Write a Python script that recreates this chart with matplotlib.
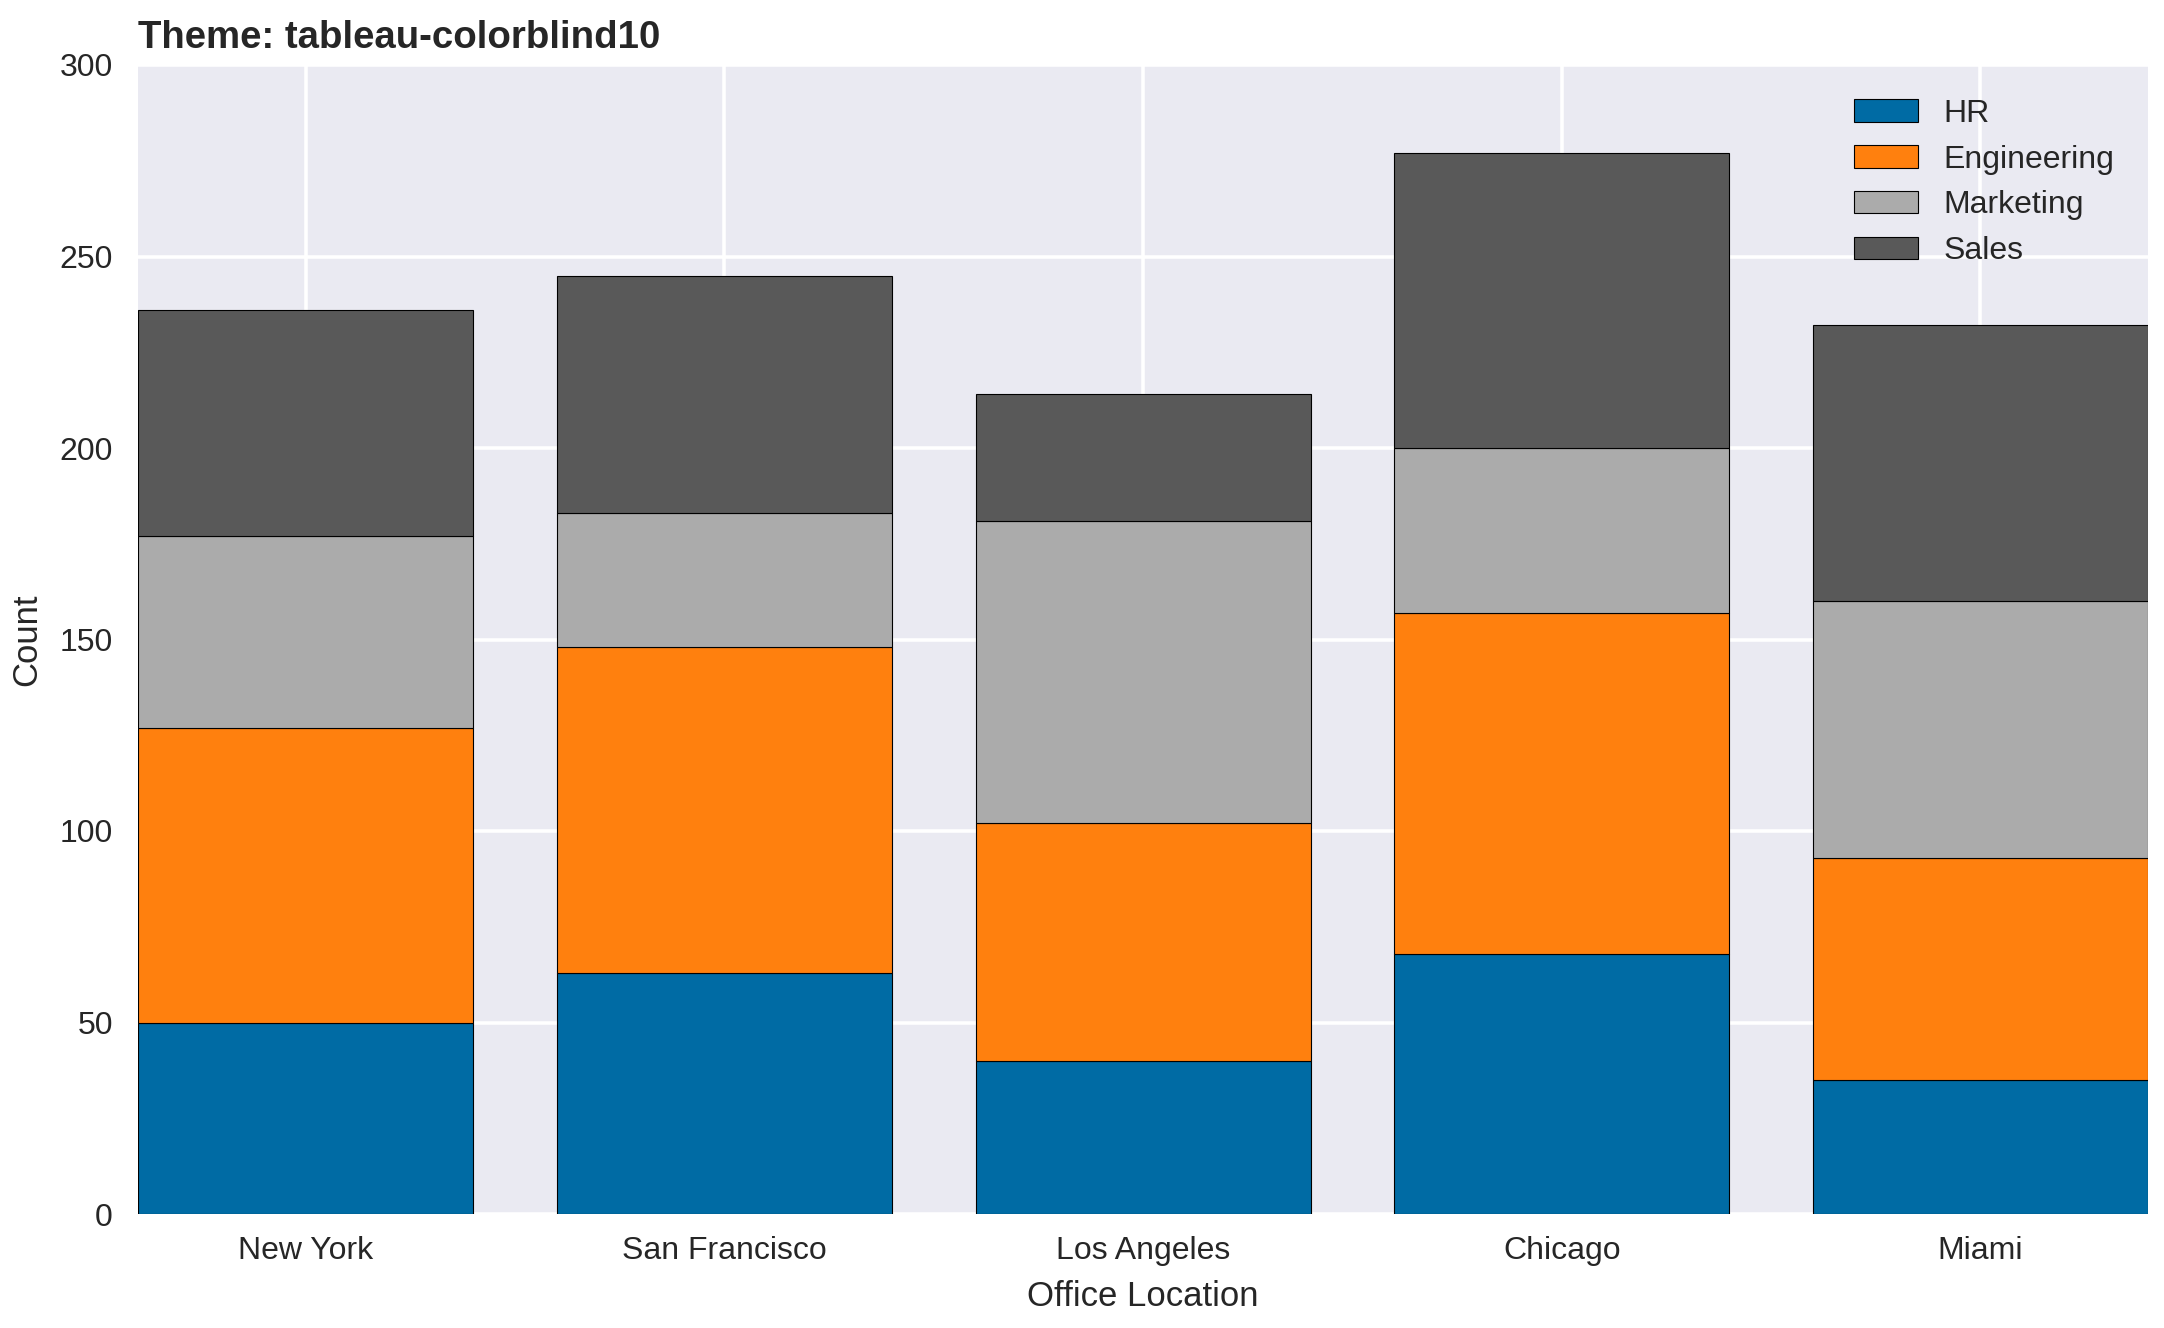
import matplotlib
matplotlib.use("Agg")
import matplotlib.pyplot as plt
import numpy as np

locations = ["New York", "San Francisco", "Los Angeles", "Chicago", "Miami"]
departments = ["HR", "Engineering", "Marketing", "Sales"]
hr = [50, 63, 40, 68, 35]
engineering = [77, 85, 62, 89, 58]
marketing = [50, 35, 79, 43, 67]
sales = [59, 62, 33, 77, 72]
series = [hr, engineering, marketing, sales]
colors = ["#006BA4", "#FF800E", "#ABABAB", "#595959"]

plt.style.use("seaborn-v0_8-darkgrid")
plt.rcParams['font.family'] = ['Liberation Sans', 'DejaVu Sans']

fig = plt.figure(figsize=(10.82, 6.64), dpi=200)
ax = fig.add_axes([138/2164, 1-1214/1328, (2148-138)/2164, (1214-65)/1328])

x = np.arange(len(locations))
bottom = np.zeros(len(locations))
for name, vals, c in zip(departments, series, colors):
    ax.bar(x, vals, 0.8, bottom=bottom, color=c, edgecolor="black", linewidth=0.4, label=name)
    bottom += np.array(vals)

ax.set_xlim(-0.4, 4.4)
ax.set_ylim(0, 300)
ax.set_xticks(x)
ax.set_xticklabels(locations)
ax.grid(True, color="white", linewidth=1.3)
ax.tick_params(axis="x", labelsize=11.5, colors="#262626", pad=8)
ax.tick_params(axis="y", labelsize=11.5, colors="#262626", pad=9)
ax.set_xlabel("Office Location", fontsize=12.5, color="#262626", labelpad=5)
ax.set_ylabel("Count", fontsize=12.5, color="#262626", labelpad=6)
ax.set_title("Theme: tableau-colorblind10", loc="left", fontweight="bold", fontsize=13.8, color="#262626")
ax.legend(loc="upper right", frameon=False, fontsize=11.5, borderaxespad=0.65)
fig.savefig("out.png", dpi=200)
